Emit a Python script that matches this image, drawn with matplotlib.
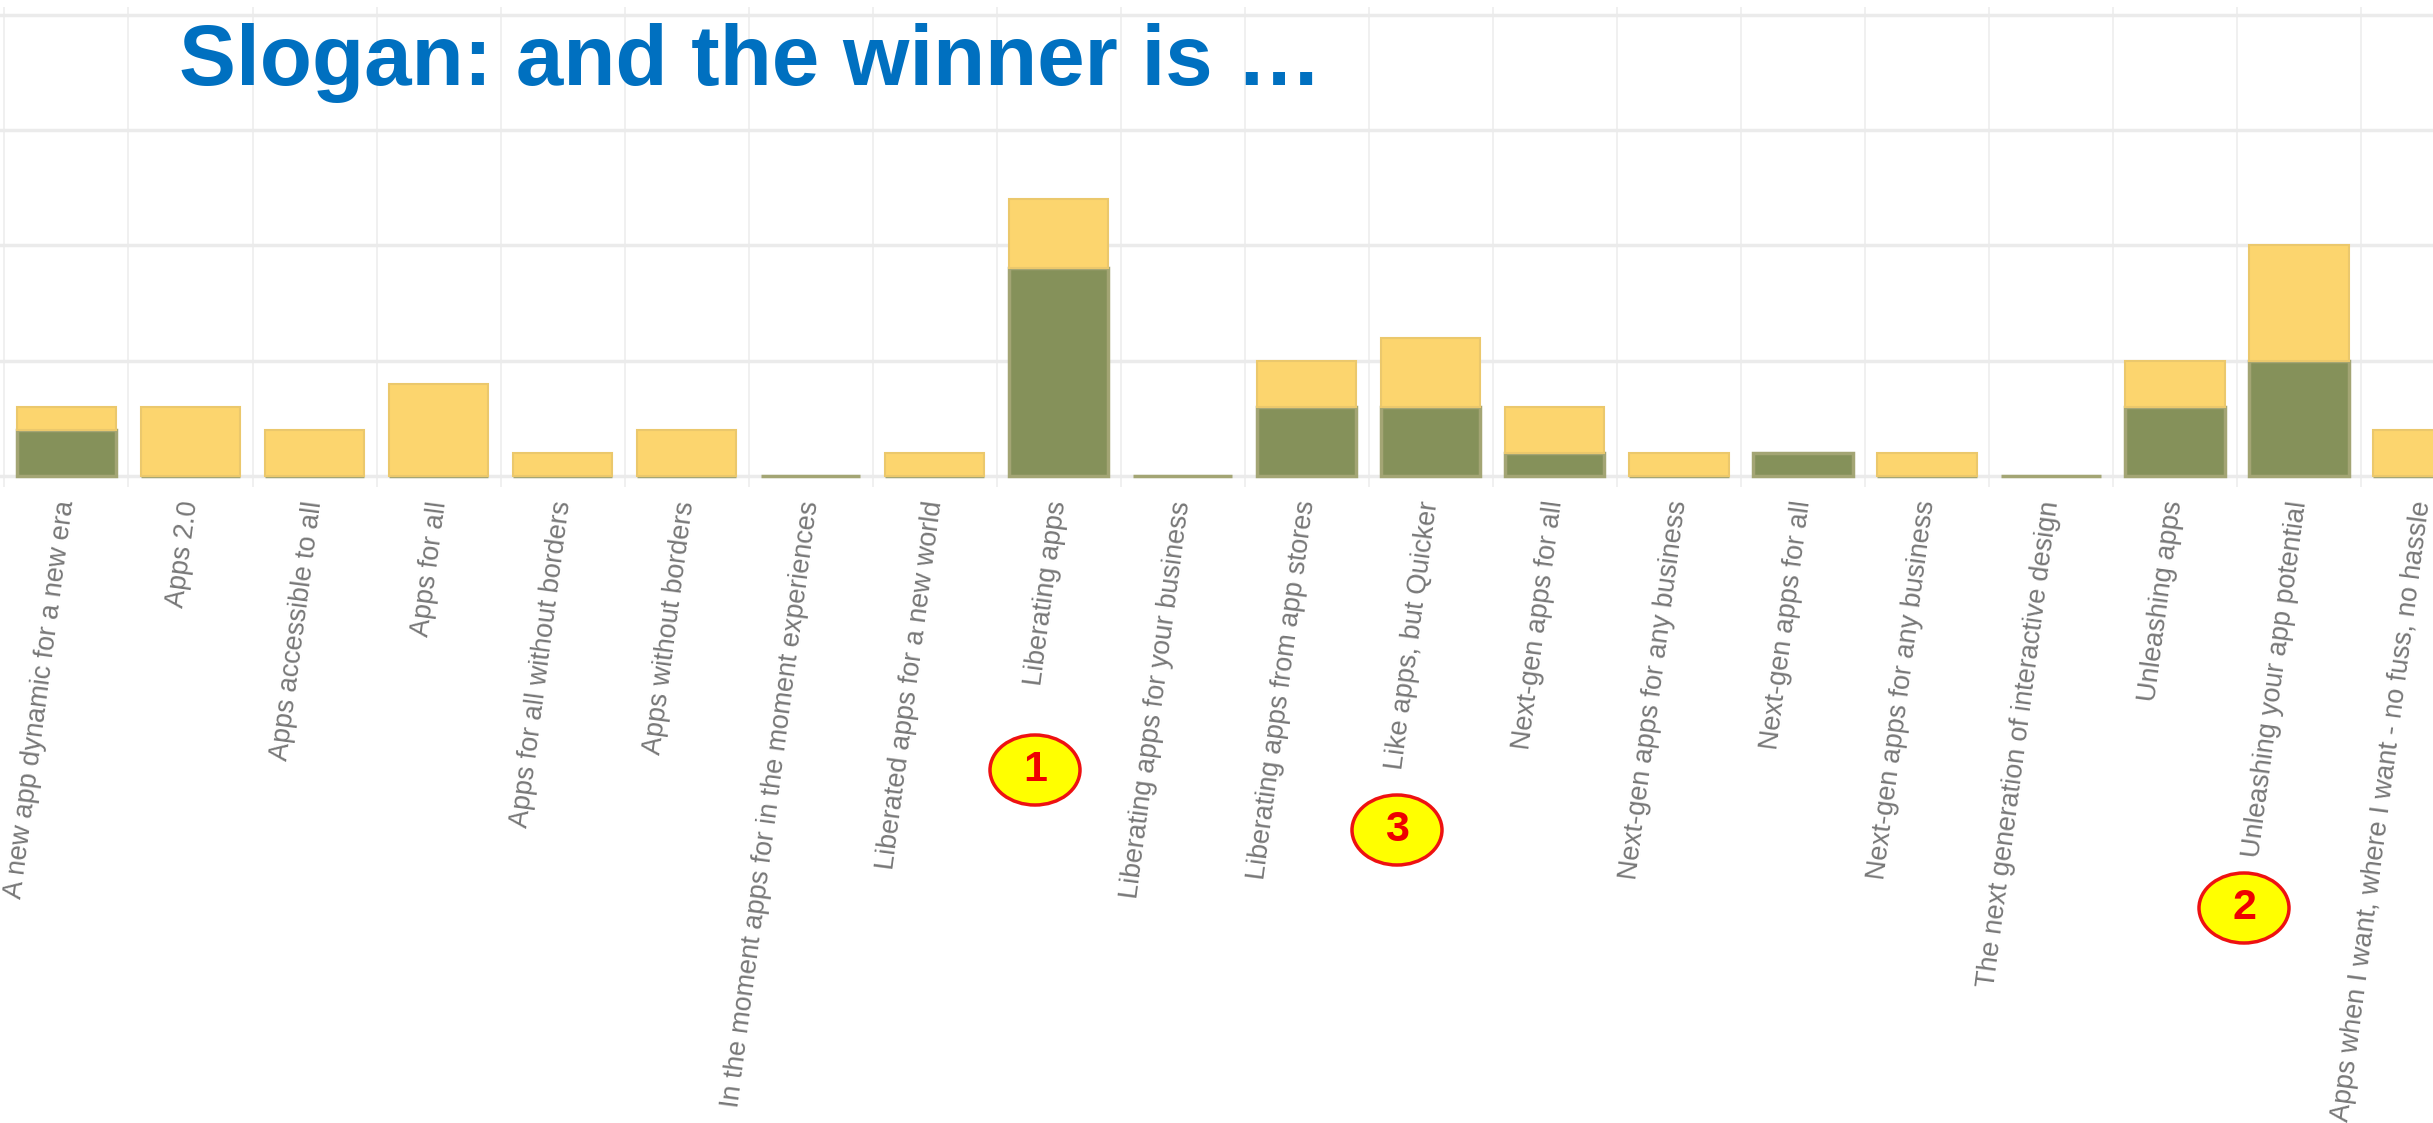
import numpy as np
import matplotlib
matplotlib.use("Agg")
import matplotlib.pyplot as plt
from matplotlib import font_manager
from matplotlib.patches import Ellipse

# Votes per slogan (green = first choice, yellow = second choice)
slogans = [
    "A new app dynamic for a new era",
    "Apps 2.0",
    "Apps accessible to all",
    "Apps for all",
    "Apps for all without borders",
    "Apps without borders",
    "In the moment apps for in the moment experiences",
    "Liberated apps for a new world",
    "Liberating apps",
    "Liberating apps for your business",
    "Liberating apps from app stores",
    "Like apps, but Quicker",
    "Next-gen apps for all",
    "Next-gen apps for any business",
    "Next-gen apps for all",
    "Next-gen apps for any business",
    "The next generation of interactive design",
    "Unleashing apps",
    "Unleashing your app potential",
    "Apps when I want, where I want - no fuss, no hassle",
]
green_votes = [2, 0, 0, 0, 0, 0, 0, 0, 9, 0, 3, 3, 1, 0, 1, 0, 0, 3, 5, 0]
yellow_votes = [1, 3, 2, 4, 1, 2, 0, 1, 3, 0, 2, 3, 2, 1, 0, 1, 0, 2, 5, 2]

# ranking markers: (slogan index, rank)
winners = [(8, "1"), (18, "2"), (11, "3")]

names = {f.name for f in font_manager.fontManager.ttflist}
narrow = "Liberation Sans Narrow" if "Liberation Sans Narrow" in names else "Liberation Sans"

fig = plt.figure(figsize=(24.33, 11.23), dpi=100)
ax = fig.add_axes([0, 1 - 487 / 1123, 1, 480 / 1123])

x = np.arange(len(slogans))
green_c = "#85915a"
yellow_c = "#fcd56e"
# zero-height bars show up as a thin olive strip on the baseline
ax.bar(x, green_votes, width=0.8, color=green_c, edgecolor="#a3a574",
       linewidth=2.5, zorder=3)
yel_lw = [1.5 if v > 0 else 0 for v in yellow_votes]
ax.bar(x, yellow_votes, width=0.8, bottom=green_votes, color=yellow_c,
       edgecolor="#ebc86c", linewidth=yel_lw, zorder=3)

ax.set_yticks([0, 5, 10, 15, 20])
ax.set_yticklabels([])
ax.set_xticks(x)
ax.set_xticks(np.r_[-0.5, x + 0.5], minor=True)
ax.set_xticklabels(slogans, rotation=82.5, ha="right", va="center",
                   rotation_mode="anchor", fontsize=19.5, color="#777777",
                   family="Liberation Sans")
# limits after the ticks, so the minor ticks do not widen the view
ax.set_xlim(-0.536, 19.08)
ax.set_ylim(-0.48, 20.34)
ax.tick_params(axis="both", which="both", length=0)
ax.tick_params(axis="x", pad=10)
ax.grid(axis="y", which="major", color="#ebebeb", linewidth=2.5, zorder=0)
ax.grid(axis="x", which="minor", color="#eeeeee", linewidth=1.2, zorder=0)
for s in ax.spines.values():
    s.set_visible(False)

fig.text(179 / 2433, 1 - 85 / 1123, "Slogan: and the winner is \u2026",
         fontsize=61.5, fontweight="bold", color="#0070c0", family=narrow,
         va="baseline", ha="left")

# yellow ellipses with rank numbers, placed in figure pixels below the labels
marker_pos = {"1": (1035, 770), "2": (2244, 908), "3": (1397, 830)}
for idx, rank in winners:
    px, py = marker_pos[rank]
    cx, cy = px / 2433, 1 - py / 1123
    e = Ellipse((cx, cy), 90 / 2433, 70 / 1123, transform=fig.transFigure,
                facecolor="#ffff00", edgecolor="#ee1111", linewidth=2.5)
    fig.add_artist(e)
    fig.text(cx, cy, rank, fontsize=31, fontweight="bold", color="#ee0000",
             family=narrow, ha="center", va="center")

fig.savefig("out.png", dpi=100)
